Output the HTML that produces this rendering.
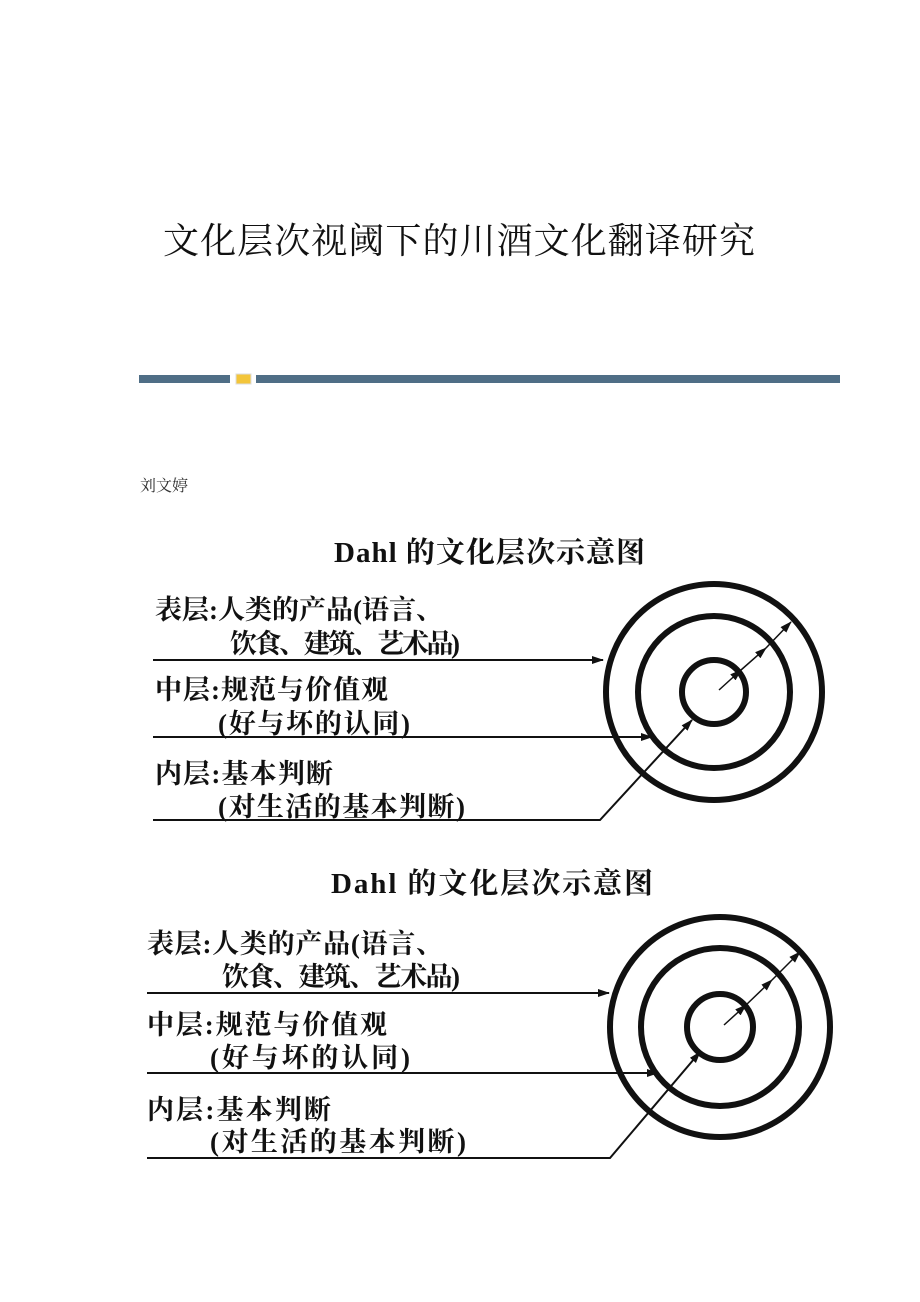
<!DOCTYPE html>
<html><head><meta charset="utf-8"><style>
html,body{margin:0;padding:0;background:#fff;}
svg{display:block;}
.t{font-family:"Liberation Serif","Noto Serif CJK SC",serif;}
.l{font-family:"Liberation Serif","Noto Serif CJK SC",serif;font-weight:bold;font-size:27px;fill:#111;}
.h{font-family:"Liberation Serif","Noto Serif CJK SC",serif;font-weight:bold;font-size:29px;fill:#111;}
</style></head><body>
<svg width="920" height="1302" viewBox="0 0 920 1302" xmlns="http://www.w3.org/2000/svg">
<defs>
<marker id="a" markerWidth="12" markerHeight="8" refX="11" refY="4" orient="auto" markerUnits="userSpaceOnUse">
<path d="M0,0 L12,4 L0,8 Z" fill="#111"/></marker>
</defs>
<text class="t" x="163" y="253" font-size="36" textLength="592" fill="#111">文化层次视阈下的川酒文化翻译研究</text>
<rect x="139" y="375" width="91" height="8" fill="#4f6e86"/>
<rect x="256" y="375" width="584" height="8" fill="#4f6e86"/>
<rect x="236" y="374" width="15" height="10" fill="#f3c53a" stroke="#ddd" stroke-width="1"/>
<text class="t" x="140" y="491" font-size="16" fill="#333">刘文婷</text>

<!-- diagram 1 -->
<text class="h" x="334" y="562" textLength="311">Dahl 的文化层次示意图</text>
<text class="l" x="155" y="619" textLength="288">表层:人类的产品(语言、</text>
<text class="l" x="230" y="653" textLength="230">饮食、建筑、艺术品)</text>
<text class="l" x="155" y="699" textLength="233">中层:规范与价值观</text>
<text class="l" x="218" y="733" textLength="192">(好与坏的认同)</text>
<text class="l" x="155" y="783" textLength="178">内层:基本判断</text>
<text class="l" x="218" y="816" textLength="247">(对生活的基本判断)</text>
<g stroke="#111" fill="none">
<line x1="153" y1="660" x2="603" y2="660" stroke-width="2" marker-end="url(#a)"/>
<line x1="153" y1="737" x2="652" y2="737" stroke-width="2" marker-end="url(#a)"/>
<polyline points="153,820 600,820 692,720" stroke-width="2" marker-end="url(#a)"/>
<circle cx="714" cy="692" r="108" stroke-width="6"/>
<circle cx="714" cy="692" r="76" stroke-width="6"/>
<circle cx="714" cy="692" r="32" stroke-width="6"/>
<line x1="719" y1="690" x2="741" y2="670" stroke-width="1.5" marker-end="url(#a)"/>
<line x1="741" y1="670" x2="766" y2="648" stroke-width="1.5" marker-end="url(#a)"/>
<line x1="766" y1="648" x2="791" y2="622" stroke-width="1.5" marker-end="url(#a)"/>
</g>

<!-- diagram 2 -->
<text class="h" x="331" y="893" textLength="322">Dahl 的文化层次示意图</text>
<text class="l" x="147" y="953" textLength="296">表层:人类的产品(语言、</text>
<text class="l" x="222" y="986" textLength="238">饮食、建筑、艺术品)</text>
<text class="l" x="147" y="1034" textLength="240">中层:规范与价值观</text>
<text class="l" x="210" y="1067" textLength="200">(好与坏的认同)</text>
<text class="l" x="147" y="1119" textLength="184">内层:基本判断</text>
<text class="l" x="210" y="1151" textLength="256">(对生活的基本判断)</text>
<g stroke="#111" fill="none">
<line x1="147" y1="993" x2="609" y2="993" stroke-width="2" marker-end="url(#a)"/>
<line x1="147" y1="1073" x2="658" y2="1073" stroke-width="2" marker-end="url(#a)"/>
<polyline points="147,1158 610,1158 700,1052" stroke-width="2" marker-end="url(#a)"/>
<circle cx="720" cy="1027" r="110" stroke-width="6"/>
<circle cx="720" cy="1027" r="79" stroke-width="6"/>
<circle cx="720" cy="1027" r="33" stroke-width="6"/>
<line x1="724" y1="1025" x2="746" y2="1005" stroke-width="1.5" marker-end="url(#a)"/>
<line x1="746" y1="1005" x2="772" y2="980" stroke-width="1.5" marker-end="url(#a)"/>
<line x1="772" y1="980" x2="800" y2="952" stroke-width="1.5" marker-end="url(#a)"/>
</g>
</svg>
</body></html>
